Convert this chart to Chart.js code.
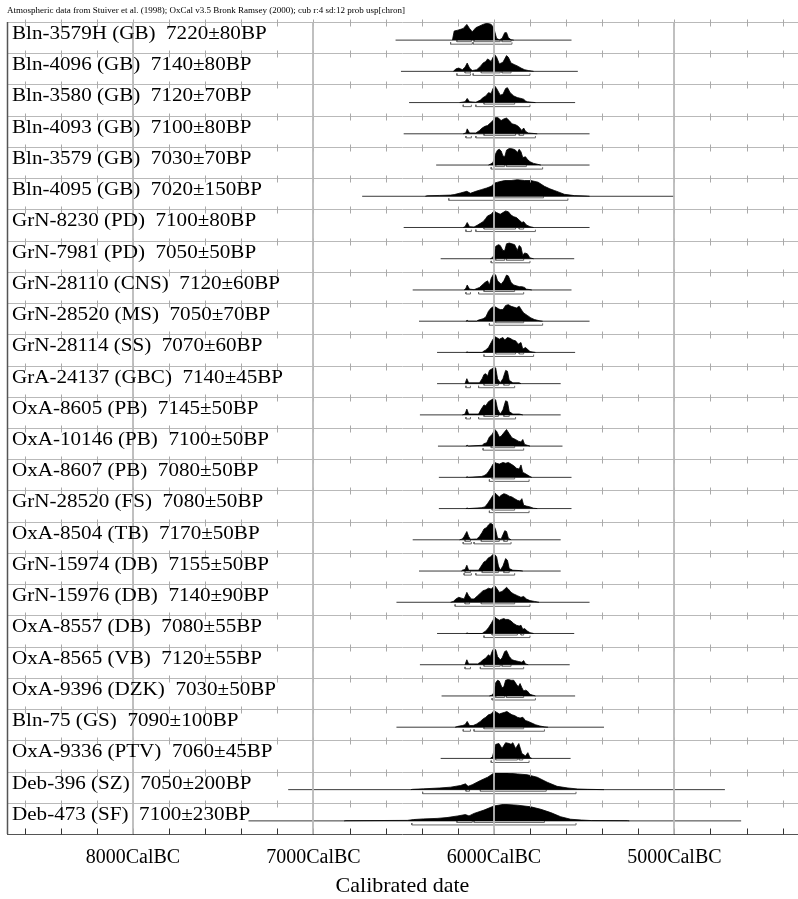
<!DOCTYPE html>
<html>
<head>
<meta charset="utf-8">
<script src="https://cdn.jsdelivr.net/npm/chart.js@4.4.0/dist/chart.umd.min.js"></script>
<style>
  html, body { margin: 0; padding: 0; background: #fff; }
  #wrap { width: 798px; height: 899px; }
</style>
</head>
<body>
<div id="wrap"><canvas id="oxcal" width="798" height="899"></canvas></div>
<script>
// samples, top to bottom
const codes = ['Bln-3579H', 'Bln-4096', 'Bln-3580', 'Bln-4093', 'Bln-3579', 'Bln-4095', 'GrN-8230', 'GrN-7981',
  'GrN-28110', 'GrN-28520', 'GrN-28114', 'GrA-24137', 'OxA-8605', 'OxA-10146', 'OxA-8607', 'GrN-28520',
  'OxA-8504', 'GrN-15974', 'GrN-15976', 'OxA-8557', 'OxA-8565', 'OxA-9396', 'Bln-75', 'OxA-9336', 'Deb-396', 'Deb-473'];
const sites = ['GB', 'GB', 'GB', 'GB', 'GB', 'GB', 'PD', 'PD', 'CNS', 'MS', 'SS', 'GBC', 'PB', 'PB', 'PB', 'FS',
  'TB', 'DB', 'DB', 'DB', 'VB', 'DZK', 'GS', 'PTV', 'SZ', 'SF'];
const bpAge = [7220, 7140, 7120, 7100, 7030, 7020, 7100, 7050, 7120, 7050, 7070, 7140, 7145, 7100, 7080, 7080,
  7170, 7155, 7140, 7080, 7120, 7030, 7090, 7060, 7050, 7100];
const bpErr = [80, 80, 70, 80, 70, 150, 80, 50, 60, 70, 60, 45, 50, 50, 50, 50, 50, 50, 90, 55, 55, 50, 100, 45, 200, 230];

// extent of the thin range line under each distribution (years BC)
const spanFrom = [6545, 6515, 6470, 6500, 6320, 6730, 6500, 6295, 6450, 6415, 6315, 6315, 6410, 6310, 6305, 6305,
  6450, 6415, 6540, 6315, 6410, 6290, 6540, 6295, 7140, 7360];
const spanTo = [5570, 5535, 5550, 5470, 5470, 5000, 5470, 5555, 5570, 5470, 5550, 5630, 5630, 5620, 5570, 5570,
  5630, 5630, 5470, 5555, 5580, 5550, 5390, 5575, 4720, 4630];

// 68.2% and 95.4% ranges (years BC)
const sigma1 = [
  [[6205, 6125], [6110, 5965], [5955, 5905]], [[6160, 6130], [6070, 5965], [5955, 5905]], [[6055, 5885]],
  [[6055, 5880], [5860, 5835]], [[5990, 5940], [5930, 5820]], [[6000, 5725]], [[6055, 5880], [5860, 5835]],
  [[5990, 5940], [5930, 5835]], [[6055, 5885]], [[5990, 5835]], [[5990, 5880], [5860, 5835]],
  [[6055, 5975], [5945, 5915]], [[6055, 5975], [5945, 5915]], [[6015, 5885]], [[6010, 5885]], [[6010, 5885]],
  [[6160, 6130], [6070, 5970], [5945, 5925]], [[6160, 6130], [6065, 5975], [5945, 5915]], [[6160, 6135], [6070, 5885]],
  [[6010, 5870], [5850, 5835]], [[6055, 5965], [5955, 5905]], [[5990, 5940], [5930, 5835]], [[6055, 5835]],
  [[5990, 5870], [5860, 5840]], [[6155, 6135], [6075, 5710]], [[6205, 6120], [6110, 5720]]
];
const sigma2 = [
  [[6240, 6120], [6115, 5900]], [[6205, 6130], [6115, 5800]], [[6170, 6125], [6100, 5800]], [[6155, 6125], [6100, 5770]],
  [[6015, 5730]], [[6250, 5590]], [[6155, 6125], [6100, 5770]], [[6015, 5800]], [[6155, 6130], [6085, 5835]],
  [[6025, 5730]], [[6055, 5780]], [[6155, 6130], [6085, 5885]], [[6155, 6130], [6085, 5880]], [[6060, 5835]],
  [[6025, 5805]], [[6025, 5805]], [[6170, 6125], [6110, 5905]], [[6165, 6125], [6100, 5885]], [[6215, 5800]],
  [[6055, 5800]], [[6160, 6130], [6075, 5835]], [[6010, 5770]], [[6170, 6130], [6110, 5720]], [[6015, 5805]],
  [[6395, 5545]], [[6455, 5545]]
];

// probability profiles: [year BC, relative height]
const pBln3579H = [[6230,0],[6220,0.55],[6200,0.6],[6185,0.65],[6170,0.7],[6150,0.95],[6135,0.7],[6120,0.5],[6100,0.75],[6080,0.85],[6060,0.95],[6045,1],[6030,1],[6015,0.95],[6005,0.8],[5995,0.5],[5985,0.1],[5970,0.02],[5955,0.1],[5940,0.45],[5930,0.45],[5920,0.15],[5905,0.02],[5890,0]];
const pBln4096 = [[6225,0],[6210,0.15],[6195,0.2],[6175,0.1],[6160,0.25],[6148,0.5],[6135,0.2],[6120,0.05],[6095,0.1],[6075,0.3],[6060,0.5],[6045,0.6],[6035,0.75],[6015,0.6],[6005,0.85],[5995,1],[5985,0.85],[5970,0.45],[5950,0.55],[5930,0.95],[5920,0.85],[5905,0.5],[5885,0.4],[5865,0.3],[5850,0.2],[5830,0.1],[5810,0.05],[5790,0.02],[5780,0]];
const pBln3580 = [[6190,0],[6160,0.05],[6148,0.25],[6135,0.05],[6100,0.02],[6075,0.15],[6060,0.3],[6045,0.4],[6030,0.6],[6015,0.55],[6005,0.85],[5995,1],[5985,0.85],[5965,0.45],[5950,0.5],[5935,0.85],[5925,0.9],[5910,0.6],[5890,0.4],[5870,0.3],[5850,0.25],[5835,0.2],[5825,0.1],[5815,0.05],[5790,0.02],[5770,0]];
const pBln4093 = [[6170,0],[6155,0.05],[6148,0.3],[6135,0.05],[6100,0.05],[6080,0.2],[6065,0.35],[6050,0.45],[6035,0.5],[6020,0.65],[6005,0.8],[5995,0.95],[5985,1],[5975,0.95],[5960,0.8],[5945,0.9],[5930,0.95],[5915,0.8],[5900,0.6],[5880,0.55],[5865,0.45],[5845,0.2],[5835,0.35],[5825,0.15],[5810,0.05],[5790,0.03],[5760,0]];
const pBln3579 = [[6030,0],[6020,0.05],[6005,0.15],[5990,0.7],[5980,0.9],[5970,0.95],[5960,0.85],[5950,0.55],[5940,0.5],[5930,0.9],[5915,1],[5900,0.98],[5890,0.95],[5880,0.9],[5870,0.75],[5860,0.95],[5850,0.8],[5840,0.45],[5825,0.5],[5815,0.35],[5800,0.2],[5780,0.1],[5760,0.05],[5740,0]];
const pBln4095 = [[6380,0],[6370,0.03],[6300,0.05],[6240,0.07],[6220,0.1],[6185,0.2],[6150,0.3],[6130,0.18],[6100,0.3],[6070,0.4],[6040,0.5],[6015,0.6],[5995,0.8],[5980,0.85],[5960,0.9],[5940,0.95],[5905,0.95],[5870,1],[5830,0.95],[5795,0.95],[5755,0.85],[5720,0.6],[5690,0.45],[5665,0.35],[5640,0.25],[5610,0.12],[5555,0.04],[5480,0.01],[5470,0]];
const pGrN8230 = [[6170,0],[6160,0.05],[6148,0.3],[6135,0.05],[6110,0.03],[6090,0.15],[6075,0.25],[6060,0.35],[6045,0.55],[6035,0.7],[6015,0.8],[6000,1],[5985,0.9],[5965,0.8],[5950,0.9],[5935,1],[5920,0.95],[5905,0.75],[5890,0.65],[5875,0.6],[5860,0.45],[5845,0.3],[5835,0.35],[5820,0.15],[5800,0.05],[5780,0]];
const pGrN7981 = [[6020,0],[6010,0.05],[6000,0.2],[5990,0.75],[5975,0.85],[5965,0.8],[5950,0.5],[5940,0.5],[5930,0.9],[5915,0.95],[5900,0.9],[5885,0.85],[5870,0.5],[5860,0.8],[5850,0.7],[5840,0.2],[5830,0.35],[5815,0.3],[5800,0.05],[5780,0]];
const pGrN28110 = [[6165,0],[6155,0.1],[6148,0.3],[6135,0.05],[6110,0.02],[6080,0.15],[6060,0.35],[6050,0.45],[6035,0.55],[6025,0.3],[6015,0.7],[6000,1],[5990,0.9],[5980,0.55],[5960,0.35],[5945,0.55],[5930,0.9],[5920,0.85],[5905,0.45],[5890,0.3],[5875,0.25],[5860,0.2],[5845,0.2],[5830,0.15],[5820,0.05],[5800,0.02],[5790,0]];
const pGrN28520ms = [[6155,0],[6148,0.05],[6140,0],[6095,0],[6090,0.05],[6060,0.15],[6045,0.25],[6030,0.6],[6015,0.8],[6000,0.9],[5990,0.85],[5975,0.75],[5965,0.7],[5950,0.7],[5935,0.95],[5920,1],[5905,0.9],[5890,0.85],[5875,0.8],[5860,0.9],[5845,0.65],[5835,0.5],[5815,0.35],[5795,0.2],[5775,0.1],[5750,0.03],[5730,0]];
const pGrN28114 = [[6155,0],[6148,0.03],[6140,0],[6065,0],[6060,0.05],[6045,0.15],[6030,0.3],[6015,0.6],[6005,0.8],[5995,0.95],[5985,0.9],[5970,0.8],[5960,0.85],[5950,0.9],[5940,0.75],[5925,0.9],[5910,0.85],[5895,0.75],[5880,0.7],[5865,0.5],[5850,0.6],[5840,0.2],[5825,0.3],[5815,0.2],[5800,0.05],[5770,0]];
const pGrA24137 = [[6160,0],[6150,0.3],[6140,0.05],[6080,0.05],[6065,0.3],[6055,0.55],[6045,0.6],[6035,0.45],[6025,0.8],[6010,0.9],[6000,1],[5990,0.95],[5980,0.3],[5965,0.05],[5950,0.3],[5935,0.8],[5925,0.75],[5915,0.2],[5895,0.05],[5860,0.05],[5850,0]];
const pOxA8605 = [[6175,0],[6160,0.05],[6150,0.35],[6140,0.05],[6085,0.05],[6070,0.35],[6055,0.6],[6045,0.55],[6030,0.8],[6015,0.9],[6000,1],[5990,0.9],[5980,0.35],[5965,0.05],[5950,0.3],[5935,0.85],[5925,0.8],[5915,0.2],[5895,0.05],[5860,0.05],[5840,0]];
const pOxA10146 = [[6155,0],[6148,0.05],[6140,0],[6065,0.05],[6055,0.15],[6040,0.2],[6025,0.55],[6010,0.7],[5995,1],[5985,0.9],[5970,0.55],[5960,0.6],[5945,0.8],[5930,1],[5915,0.75],[5900,0.5],[5880,0.4],[5865,0.3],[5850,0.25],[5840,0.4],[5830,0.1],[5815,0.05],[5800,0]];
const pOxA8607 = [[6155,0],[6148,0.03],[6140,0],[6070,0.05],[6055,0.1],[6040,0.2],[6030,0.35],[6015,0.6],[6005,0.8],[5995,0.9],[5985,0.85],[5970,0.8],[5960,0.85],[5950,0.9],[5935,0.85],[5920,0.9],[5905,0.8],[5890,0.7],[5875,0.55],[5860,0.5],[5850,0.75],[5840,0.3],[5830,0.25],[5815,0.15],[5800,0.05],[5790,0]];
const pGrN28520fs = [[6155,0],[6148,0.03],[6140,0],[6070,0.05],[6050,0.1],[6035,0.3],[6020,0.55],[6005,0.8],[5995,0.95],[5985,0.85],[5970,0.7],[5960,0.8],[5945,0.9],[5930,0.85],[5915,0.75],[5900,0.7],[5885,0.6],[5870,0.5],[5855,0.45],[5845,0.6],[5835,0.2],[5820,0.15],[5800,0.1],[5780,0.02],[5760,0]];
const pOxA8504 = [[6190,0],[6175,0.05],[6165,0.2],[6150,0.5],[6140,0.2],[6130,0.03],[6095,0.05],[6080,0.2],[6065,0.45],[6055,0.65],[6040,0.75],[6030,0.9],[6020,1],[6010,0.95],[6000,0.85],[5990,0.6],[5980,0.1],[5960,0.05],[5950,0.3],[5940,0.55],[5930,0.5],[5920,0.1],[5905,0]];
const pGrN15974 = [[6180,0],[6175,0.05],[6160,0.1],[6150,0.35],[6140,0.05],[6085,0.05],[6070,0.3],[6055,0.55],[6045,0.6],[6030,0.8],[6020,0.85],[6005,1],[5995,1],[5985,0.85],[5975,0.3],[5965,0.05],[5950,0.3],[5935,0.75],[5925,0.65],[5915,0.15],[5895,0.05],[5860,0.03],[5840,0]];
const pGrN15976 = [[6240,0],[6225,0.05],[6210,0.2],[6195,0.3],[6180,0.25],[6165,0.2],[6150,0.6],[6140,0.4],[6125,0.2],[6110,0.2],[6090,0.4],[6075,0.55],[6060,0.7],[6045,0.75],[6030,0.85],[6015,0.8],[6005,0.9],[5995,1],[5985,0.85],[5970,0.6],[5955,0.65],[5940,0.8],[5930,0.9],[5920,0.8],[5905,0.6],[5890,0.5],[5870,0.4],[5850,0.3],[5835,0.35],[5820,0.2],[5800,0.1],[5775,0.05],[5750,0]];
const pOxA8557 = [[6155,0],[6148,0.03],[6140,0],[6065,0],[6060,0.05],[6045,0.15],[6030,0.35],[6015,0.6],[6005,0.8],[5995,1],[5985,0.9],[5970,0.8],[5960,0.85],[5945,0.9],[5935,0.85],[5920,0.85],[5905,0.75],[5890,0.6],[5875,0.5],[5860,0.45],[5850,0.5],[5840,0.25],[5830,0.3],[5815,0.15],[5800,0.05],[5780,0]];
const pOxA8565 = [[6160,0],[6150,0.3],[6140,0.05],[6090,0.05],[6075,0.15],[6060,0.3],[6045,0.4],[6030,0.6],[6020,0.5],[6010,0.8],[6000,1],[5990,0.9],[5980,0.5],[5965,0.3],[5955,0.4],[5940,0.8],[5930,0.85],[5915,0.5],[5900,0.3],[5885,0.25],[5865,0.2],[5845,0.15],[5835,0.25],[5825,0.05],[5810,0]];
const pOxA9396 = [[6025,0],[6010,0.05],[6000,0.2],[5990,0.8],[5980,0.95],[5970,0.9],[5955,0.5],[5945,0.55],[5935,0.95],[5920,1],[5905,0.95],[5890,0.95],[5875,0.7],[5865,0.55],[5855,0.75],[5845,0.5],[5835,0.3],[5825,0.35],[5815,0.3],[5800,0.1],[5785,0.05],[5770,0]];
const pBln75 = [[6215,0],[6200,0.05],[6175,0.1],[6160,0.15],[6148,0.35],[6135,0.1],[6115,0.1],[6095,0.2],[6075,0.35],[6060,0.5],[6045,0.6],[6030,0.75],[6015,0.8],[6000,1],[5985,0.9],[5970,0.8],[5955,0.85],[5940,0.9],[5928,0.95],[5915,0.85],[5900,0.75],[5885,0.7],[5870,0.6],[5855,0.55],[5840,0.6],[5825,0.4],[5810,0.35],[5790,0.25],[5770,0.15],[5745,0.07],[5720,0.02],[5700,0]];
const pOxA9336 = [[6020,0],[6008,0.1],[5990,0.85],[5972,0.9],[5955,0.6],[5935,0.95],[5915,0.9],[5905,0.85],[5895,0.95],[5880,0.6],[5862,0.9],[5845,0.3],[5825,0.15],[5812,0.35],[5800,0.05],[5790,0]];
const pDeb396 = [[6460,0],[6450,0.02],[6390,0.05],[6300,0.1],[6240,0.15],[6185,0.25],[6158,0.35],[6143,0.2],[6120,0.3],[6075,0.55],[6035,0.75],[6000,1],[5925,1],[5870,0.95],[5815,0.9],[5760,0.75],[5705,0.45],[5650,0.2],[5590,0.1],[5535,0.04],[5480,0.02],[5390,0]];
const pDeb473 = [[6830,0],[6820,0.01],[6480,0.03],[6445,0.08],[6390,0.12],[6315,0.15],[6260,0.2],[6200,0.3],[6158,0.38],[6138,0.3],[6110,0.45],[6055,0.65],[6000,0.9],[5945,1],[5870,0.95],[5795,0.85],[5740,0.7],[5685,0.5],[5630,0.25],[5575,0.1],[5515,0.05],[5460,0.02],[5260,0.01],[5250,0]];
const profiles = [pBln3579H, pBln4096, pBln3580, pBln4093, pBln3579, pBln4095, pGrN8230, pGrN7981, pGrN28110,
  pGrN28520ms, pGrN28114, pGrA24137, pOxA8605, pOxA10146, pOxA8607, pGrN28520fs, pOxA8504, pGrN15974, pGrN15976,
  pOxA8557, pOxA8565, pOxA9396, pBln75, pOxA9336, pDeb396, pDeb473];

// axis ticks (years BC)
const majorYears = [8000, 7000, 6000, 5000];
const tickYears = [8600, 8400, 8200, 8000, 7800, 7600, 7400, 7200, 7000, 6800, 6600, 6400, 6200, 6000,
  5800, 5600, 5400, 5200, 5000, 4800, 4600, 4400];

const headerText = 'Atmospheric data from Stuiver et al. (1998); OxCal v3.5 Bronk Ramsey (2000); cub r:4 sd:12 prob usp[chron]';

// row geometry in y-units (1 unit = one row)
const BASE = 0.58;   // baseline inside a row
const PEAK = 0.53;   // height of the tallest peak
const S1 = 0.05, S2 = 0.13, TICK = 0.06;

const datasets = [];
profiles.forEach((prof, k) => {
    const base = k + BASE;
    datasets.push({
        data: prof.map(([yr, h]) => ({ x: -yr, y: base - h * PEAK })),
        fill: { value: base },
        backgroundColor: '#000',
        borderColor: '#000',
        borderWidth: 0.8,
        pointRadius: 0,
        tension: 0
    });
});

// range lines
const rangePts = [];
spanFrom.forEach((a, k) => {
    rangePts.push({ x: -a, y: k + BASE }, { x: -spanTo[k], y: k + BASE }, { x: -spanTo[k], y: null });
});
datasets.push({ data: rangePts, borderColor: '#3a3a3a', borderWidth: 1, pointRadius: 0, fill: false, spanGaps: false });

// brackets
function bracketPts(list, off) {
    const pts = [];
    list.forEach((ranges, k) => {
        const yy = k + BASE + off;
        ranges.forEach(([a, b]) => {
            pts.push({ x: -a, y: yy - TICK }, { x: -a, y: yy }, { x: -b, y: yy }, { x: -b, y: yy - TICK }, { x: -b, y: null });
        });
    });
    return pts;
}
datasets.push({ data: bracketPts(sigma1, S1), borderColor: '#666', borderWidth: 1, pointRadius: 0, fill: false, spanGaps: false });
datasets.push({ data: bracketPts(sigma2, S2), borderColor: '#666', borderWidth: 1, pointRadius: 0, fill: false, spanGaps: false });

// grid, row lines, labels drawn over the plot
const oxcalGrid = {
    id: 'oxcalGrid',
    afterDatasetsDraw(chart) {
        const { ctx, chartArea: a, scales: { x, y } } = chart;
        ctx.save();
        ctx.lineWidth = 1;
        for (let k = 0; k <= codes.length; k++) {
            const py = Math.round(y.getPixelForValue(k)) + 0.5;
            const last = k === codes.length;
            ctx.strokeStyle = last ? '#555' : '#b9b9b9';
            ctx.beginPath(); ctx.moveTo(a.left, py); ctx.lineTo(a.right, py); ctx.stroke();
            ctx.strokeStyle = last ? '#333' : '#a9a9a9';
            tickYears.forEach(t => {
                const px = Math.round(x.getPixelForValue(-t)) + 0.5;
                ctx.beginPath();
                if (last) { ctx.moveTo(px, py); ctx.lineTo(px, py - 6); }
                else { ctx.moveTo(px, py - 3); ctx.lineTo(px, py + 4); }
                ctx.stroke();
            });
        }
        ctx.strokeStyle = 'rgba(185,185,185,0.9)';
        ctx.lineWidth = 2;
        majorYears.forEach(t => {
            const px = Math.round(x.getPixelForValue(-t));
            ctx.beginPath(); ctx.moveTo(px, a.top); ctx.lineTo(px, a.bottom); ctx.stroke();
        });
        ctx.strokeStyle = '#555';
        ctx.lineWidth = 1.5;
        ctx.beginPath(); ctx.moveTo(a.left + 0.5, a.top); ctx.lineTo(a.left + 0.5, a.bottom); ctx.stroke();

        ctx.fillStyle = '#000';
        ctx.font = '18.5px "Liberation Serif"';
        codes.forEach((c, k) => {
            const py = y.getPixelForValue(k) + 17;
            ctx.save();
            ctx.translate(a.left + 5, py);
            ctx.scale(1.14, 1);
            ctx.fillText(`${c} (${sites[k]})  ${bpAge[k]}±${bpErr[k]}BP`, 0, 0);
            ctx.restore();
        });
        ctx.font = '9px "Liberation Serif"';
        ctx.fillText(headerText, a.left, 13);
        ctx.restore();
    }
};

new Chart(document.getElementById('oxcal'), {
    type: 'line',
    data: { datasets },
    options: {
        responsive: false,
        animation: false,
        events: [],
        layout: { padding: { left: 7, top: 22, right: 0, bottom: 0 } },
        plugins: { legend: { display: false }, tooltip: { enabled: false } },
        scales: {
            x: {
                type: 'linear',
                min: -8698,
                max: -4315,
                afterBuildTicks: s => { s.ticks = majorYears.map(v => ({ value: -v })); },
                afterFit: s => { s.height = 65; },
                grid: { display: false, drawTicks: false },
                border: { display: false },
                ticks: {
                    padding: 12,
                    color: '#000',
                    maxRotation: 0,
                    autoSkip: false,
                    font: { family: 'Liberation Serif', size: 20 },
                    callback: v => `${-v}CalBC`
                },
                title: {
                    display: true,
                    text: 'Calibrated date',
                    color: '#000',
                    font: { family: 'Liberation Serif', size: 22 },
                    padding: { top: 0, bottom: 0 }
                }
            },
            y: { type: 'linear', min: 0, max: 26, reverse: true, display: false }
        }
    },
    plugins: [oxcalGrid]
});
</script>
</body>
</html>
